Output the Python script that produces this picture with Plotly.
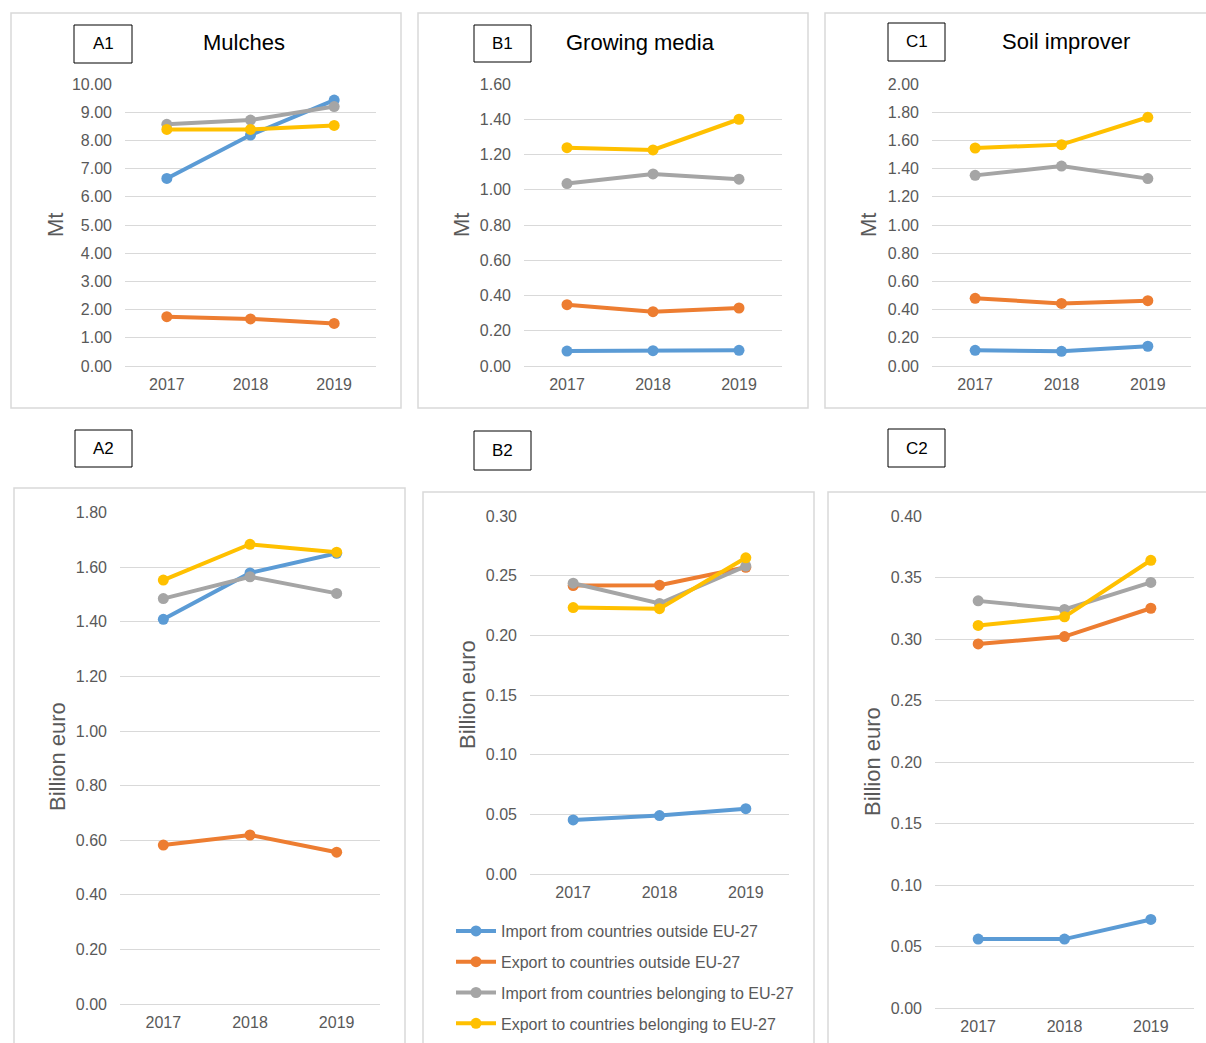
import plotly.graph_objects as go

W, H = 1206, 1043

years = ["2017", "2018", "2019"]
series_names = [
    "Import from countries outside EU-27",
    "Export to countries outside EU-27",
    "Import from countries belonging to EU-27",
    "Export to countries belonging to EU-27",
]
series_colors = ["#5b9bd5", "#ed7d31", "#a5a5a5", "#ffc000"]

# Mulches, volume (Mt)
mulch_mt_imp_out = [6.65, 8.19, 9.43]
mulch_mt_exp_out = [1.75, 1.67, 1.51]
mulch_mt_imp_eu = [8.57, 8.72, 9.20]
mulch_mt_exp_eu = [8.39, 8.39, 8.53]

# Growing media, volume (Mt)
media_mt_imp_out = [0.085, 0.087, 0.089]
media_mt_exp_out = [0.348, 0.308, 0.329]
media_mt_imp_eu = [1.035, 1.090, 1.060]
media_mt_exp_eu = [1.239, 1.226, 1.400]

# Soil improver, volume (Mt)
soil_mt_imp_out = [0.111, 0.104, 0.140]
soil_mt_exp_out = [0.480, 0.444, 0.463]
soil_mt_imp_eu = [1.352, 1.418, 1.329]
soil_mt_exp_eu = [1.546, 1.570, 1.764]

# Mulches, value (billion euro)
mulch_eur_imp_out = [1.409, 1.579, 1.651]
mulch_eur_exp_out = [0.582, 0.619, 0.556]
mulch_eur_imp_eu = [1.485, 1.565, 1.504]
mulch_eur_exp_eu = [1.553, 1.684, 1.655]

# Growing media, value (billion euro)
media_eur_imp_out = [0.0453, 0.0490, 0.0547]
media_eur_exp_out = [0.2417, 0.2420, 0.2570]
media_eur_imp_eu = [0.2437, 0.2267, 0.2580]
media_eur_exp_eu = [0.2233, 0.2223, 0.2650]

# Soil improver, value (billion euro)
soil_eur_imp_out = [0.056, 0.056, 0.072]
soil_eur_exp_out = [0.296, 0.302, 0.325]
soil_eur_imp_eu = [0.331, 0.324, 0.346]
soil_eur_exp_eu = [0.311, 0.318, 0.364]

panel_labels = ["A1", "B1", "C1", "A2", "B2", "C2"]
panel_titles = ["Mulches", "Growing media", "Soil improver", "", "", ""]
y_titles = ["Mt", "Mt", "Mt", "Billion euro", "Billion euro", "Billion euro"]
y_max = [10, 1.6, 2.0, 1.8, 0.30, 0.40]
y_step = [1, 0.2, 0.2, 0.2, 0.05, 0.05]

panel_data = [
    [mulch_mt_imp_out, mulch_mt_exp_out, mulch_mt_imp_eu, mulch_mt_exp_eu],
    [media_mt_imp_out, media_mt_exp_out, media_mt_imp_eu, media_mt_exp_eu],
    [soil_mt_imp_out, soil_mt_exp_out, soil_mt_imp_eu, soil_mt_exp_eu],
    [mulch_eur_imp_out, mulch_eur_exp_out, mulch_eur_imp_eu, mulch_eur_exp_eu],
    [media_eur_imp_out, media_eur_exp_out, media_eur_imp_eu, media_eur_exp_eu],
    [soil_eur_imp_out, soil_eur_exp_out, soil_eur_imp_eu, soil_eur_exp_eu],
]

# Layout geometry in pixels: plot area (x0, x1, ytop, ybottom)
plot_px = [
    (125, 376, 84, 366),
    (524, 782, 84, 366),
    (932, 1191, 84, 366),
    (120, 380, 512.6, 1004),
    (530, 789, 516, 874),
    (935, 1194, 516, 1008),
]
frame_px = [
    (11, 401, 13, 408),
    (418, 808, 13, 408),
    (825, 1215, 13, 408),
    (14, 405, 488, 1060),
    (423, 814, 492, 1060),
    (828, 1215, 492, 1060),
]
label_box_px = [
    (74, 132, 25, 63),
    (474, 531, 25, 62),
    (888, 945, 23, 61),
    (75, 132, 430, 467),
    (474, 531, 431, 470),
    (888, 945, 429, 467),
]
title_pos = [(244, 43), (640, 43), (1066, 41), None, None, None]
ytitle_pos = [(55, 225), (461, 225), (868, 225), (57, 757), (467, 695), (872, 762)]


def fx(px):
    return px / W


def fy(py):
    return 1 - py / H


FONT = "Liberation Sans, Arial, sans-serif"
TICK_COLOR = "#595959"
GRID_COLOR = "#d9d9d9"

fig = go.Figure()
layout = {}
shapes = []
annotations = []

for i in range(6):
    n = i + 1
    xa = "x" if n == 1 else f"x{n}"
    ya = "y" if n == 1 else f"y{n}"
    for k in range(4):
        fig.add_trace(go.Scatter(
            x=years, y=panel_data[i][k], xaxis=xa, yaxis=ya,
            mode="lines+markers", name=series_names[k],
            legendgroup=series_names[k], showlegend=(i == 0),
            line=dict(color=series_colors[k], width=4),
            marker=dict(color=series_colors[k], size=11),
        ))
    x0, x1, yt, yb = plot_px[i]
    layout["xaxis" if n == 1 else f"xaxis{n}"] = dict(
        domain=[fx(x0), fx(x1)], anchor=ya, type="category",
        range=[-0.5, 2.5], showgrid=False, showline=False, zeroline=False,
        ticks="", ticklabelstandoff=7,
        tickfont=dict(family=FONT, size=16, color=TICK_COLOR),
        fixedrange=True,
    )
    layout["yaxis" if n == 1 else f"yaxis{n}"] = dict(
        domain=[fy(yb), fy(yt)], anchor=xa, range=[0, y_max[i]],
        dtick=y_step[i], tick0=0, tickformat=".2f",
        showgrid=True, gridcolor=GRID_COLOR, gridwidth=1,
        zeroline=True, zerolinecolor=GRID_COLOR, zerolinewidth=1,
        showline=False, ticks="", ticklabelstandoff=12,
        tickfont=dict(family=FONT, size=16, color=TICK_COLOR),
        fixedrange=True,
    )
    # panel frame
    fx0, fx1, fyt, fyb = frame_px[i]
    shapes.append(dict(type="rect", xref="paper", yref="paper",
                       x0=fx(fx0), x1=fx(fx1), y0=fy(fyb), y1=fy(fyt),
                       line=dict(color=GRID_COLOR, width=1.5), layer="below"))
    # panel label box
    bx0, bx1, byt, byb = label_box_px[i]
    shapes.append(dict(type="rect", xref="paper", yref="paper",
                       x0=fx(bx0), x1=fx(bx1), y0=fy(byb), y1=fy(byt),
                       line=dict(color="#000000", width=1), fillcolor="white"))
    annotations.append(dict(text=panel_labels[i], xref="paper", yref="paper",
                            x=fx((bx0 + bx1) / 2), y=fy((byt + byb) / 2),
                            xanchor="center", yanchor="middle", showarrow=False,
                            font=dict(family=FONT, size=17, color="#000000")))
    if title_pos[i]:
        tx, ty = title_pos[i]
        annotations.append(dict(text=panel_titles[i], xref="paper", yref="paper",
                                x=fx(tx), y=fy(ty), xanchor="center", yanchor="middle",
                                showarrow=False,
                                font=dict(family=FONT, size=22, color="#000000")))
    ax, ay = ytitle_pos[i]
    annotations.append(dict(text=y_titles[i], xref="paper", yref="paper",
                            x=fx(ax), y=fy(ay), xanchor="center", yanchor="middle",
                            textangle=-90, showarrow=False,
                            font=dict(family=FONT, size=22, color=TICK_COLOR)))

fig.update_layout(
    width=W, height=H,
    margin=dict(l=0, r=0, t=0, b=0, autoexpand=False),
    paper_bgcolor="white", plot_bgcolor="white",
    shapes=shapes, annotations=annotations,
    showlegend=True,
    legend=dict(x=fx(451), y=fy(914), xanchor="left", yanchor="top",
                bgcolor="rgba(0,0,0,0)", tracegroupgap=7,
                font=dict(family=FONT, size=16, color=TICK_COLOR),
                itemwidth=40),
    **layout,
)

fig.write_html("out.html")
